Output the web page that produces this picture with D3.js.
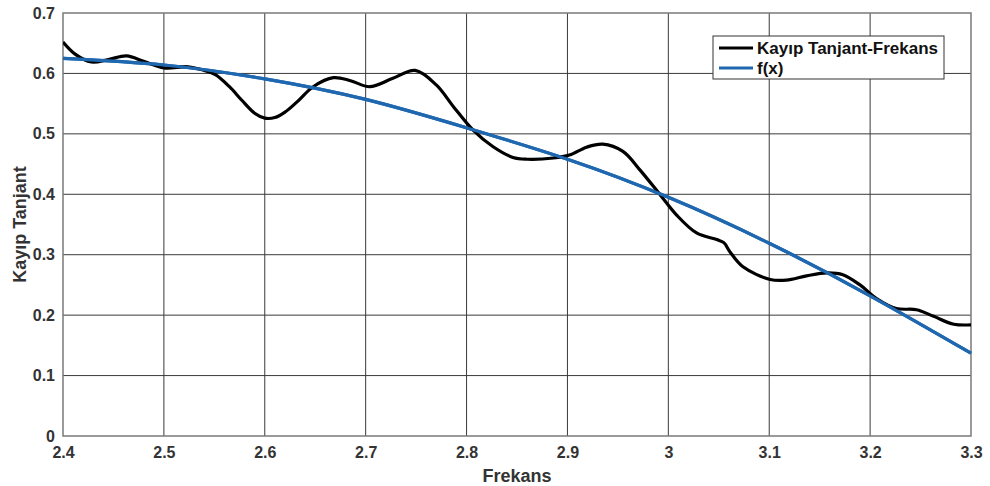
<!DOCTYPE html>
<html>
<head>
<meta charset="utf-8">
<script src="https://cdn.jsdelivr.net/npm/d3@7"></script>
<style>
  html, body { margin: 0; padding: 0; background: #fff; }
  svg { display: block; font-family: "Liberation Sans", Arial, sans-serif; }
</style>
</head>
<body>
<svg id="chart" width="990" height="486"></svg>
<script>
// Measured loss tangent vs. frequency
const measFreq = [2.400, 2.412, 2.428, 2.445, 2.463, 2.480, 2.500, 2.524, 2.540, 2.551,
  2.565, 2.577, 2.590, 2.600, 2.610, 2.620, 2.632, 2.648, 2.668, 2.685,
  2.704, 2.727, 2.749, 2.770, 2.787, 2.806, 2.826, 2.846, 2.860, 2.886,
  2.902, 2.919, 2.935, 2.955, 2.972, 2.992, 3.008, 3.028, 3.048, 3.055,
  3.061, 3.074, 3.101, 3.117, 3.137, 3.157, 3.173, 3.190, 3.206, 3.226,
  3.246, 3.263, 3.283, 3.300];
const measTan = [0.652, 0.632, 0.619, 0.623, 0.629, 0.620, 0.609, 0.611, 0.605, 0.598,
  0.578, 0.556, 0.534, 0.526, 0.527, 0.536, 0.553, 0.578, 0.593, 0.588,
  0.578, 0.592, 0.605, 0.581, 0.545, 0.507, 0.479, 0.461, 0.458, 0.460,
  0.465, 0.478, 0.483, 0.471, 0.440, 0.399, 0.366, 0.336, 0.325, 0.320,
  0.305, 0.280, 0.259, 0.258, 0.265, 0.270, 0.267, 0.250, 0.228, 0.211,
  0.209, 0.198, 0.185, 0.184];

// Fitted curve f(x)
const fitFreq = [2.4, 2.5, 2.6, 2.7, 2.8, 2.9, 3.0, 3.1, 3.2, 3.3];
const fitTan = [0.625, 0.614, 0.591, 0.557, 0.510, 0.458, 0.395, 0.319, 0.232, 0.137];

const xTicks = [2.4, 2.5, 2.6, 2.7, 2.8, 2.9, 3.0, 3.1, 3.2, 3.3];
const yTicks = [0, 0.1, 0.2, 0.3, 0.4, 0.5, 0.6, 0.7];
const seriesNames = ["Kayıp Tanjant-Frekans", "f(x)"];
const seriesColors = ["#000000", "#1f68b0"];

const svg = d3.select("#chart");
const m = { left: 63, right: 19, top: 13, bottom: 50 };
const W = 990, H = 486;
const x = d3.scaleLinear().domain([2.4, 3.3]).range([m.left, W - m.right]);
const y = d3.scaleLinear().domain([0, 0.7]).range([H - m.bottom, m.top]);

// grid
const g = svg.append("g");
g.selectAll("line.vx").data(xTicks.slice(1, -1)).join("line")
  .attr("x1", d => x(d)).attr("x2", d => x(d))
  .attr("y1", y(0)).attr("y2", y(0.7))
  .attr("stroke", "#3a3a3a").attr("stroke-width", 1);
g.selectAll("line.hy").data(yTicks.slice(1, -1)).join("line")
  .attr("y1", d => y(d)).attr("y2", d => y(d))
  .attr("x1", x(2.4)).attr("x2", x(3.3))
  .attr("stroke", "#3a3a3a").attr("stroke-width", 1);

// frame
svg.append("rect")
  .attr("x", x(2.4)).attr("y", y(0.7))
  .attr("width", x(3.3) - x(2.4)).attr("height", y(0) - y(0.7))
  .attr("fill", "none").attr("stroke", "#7a7a7a").attr("stroke-width", 1.5);

// axes tick labels
const xAxis = svg.append("g").attr("transform", `translate(0,${y(0)})`)
  .call(d3.axisBottom(x).tickValues(xTicks).tickSize(0).tickPadding(11)
    .tickFormat(d => d3.format("")(+d.toFixed(1))));
const yAxis = svg.append("g").attr("transform", `translate(${x(2.4)},0)`)
  .call(d3.axisLeft(y).tickValues(yTicks).tickSize(0).tickPadding(8)
    .tickFormat(d => d3.format("")(+d.toFixed(1))));
[xAxis, yAxis].forEach(a => {
  a.select(".domain").remove();
  a.selectAll("text").attr("font-size", 16).attr("font-weight", "bold")
    .attr("fill", "#333").attr("font-family", "Liberation Sans, Arial, sans-serif");
});

// axis titles
svg.append("text").attr("x", (x(2.4) + x(3.3)) / 2).attr("y", 482)
  .attr("text-anchor", "middle").attr("font-size", 18).attr("font-weight", "bold")
  .attr("fill", "#333").text("Frekans");
svg.append("text")
  .attr("transform", `translate(26,${(y(0) + y(0.7)) / 2}) rotate(-90)`)
  .attr("text-anchor", "middle").attr("font-size", 18).attr("font-weight", "bold")
  .attr("fill", "#333").text("Kayıp Tanjant");

// curves
const clip = svg.append("clipPath").attr("id", "plotclip").append("rect")
  .attr("x", x(2.4)).attr("y", y(0.7))
  .attr("width", x(3.3) - x(2.4)).attr("height", y(0) - y(0.7));

const line = d3.line().x(d => x(d[0])).y(d => y(d[1])).curve(d3.curveCatmullRom.alpha(0.5));
svg.append("path")
  .datum(fitFreq.map((f, i) => [f, fitTan[i]]))
  .attr("d", d3.line().x(d => x(d[0])).y(d => y(d[1])).curve(d3.curveNatural))
  .attr("fill", "none").attr("stroke", seriesColors[1]).attr("stroke-width", 3.2);
svg.append("path")
  .datum(measFreq.map((f, i) => [f, measTan[i]]))
  .attr("d", line)
  .attr("fill", "none").attr("stroke", seriesColors[0]).attr("stroke-width", 3.2)
  .attr("stroke-linejoin", "round").attr("clip-path", "url(#plotclip)");
// redraw fit above so it shows on top where they cross
svg.append("path")
  .datum(fitFreq.map((f, i) => [f, fitTan[i]]))
  .attr("d", d3.line().x(d => x(d[0])).y(d => y(d[1])).curve(d3.curveNatural))
  .attr("fill", "none").attr("stroke", seriesColors[1]).attr("stroke-width", 3.2);

// legend
const lg = svg.append("g").attr("transform", "translate(713,36)");
lg.append("rect").attr("width", 231).attr("height", 43)
  .attr("fill", "#fff").attr("stroke", "#333").attr("stroke-width", 1);
seriesNames.forEach((name, i) => {
  const yy = 12 + i * 20;
  lg.append("line").attr("x1", 6).attr("x2", 40).attr("y1", yy).attr("y2", yy)
    .attr("stroke", seriesColors[i]).attr("stroke-width", 3.2);
  lg.append("text").attr("x", 44).attr("y", yy + 6)
    .attr("font-size", 17).attr("font-weight", "bold").attr("fill", "#111")
    .text(name);
});
</script>
</body>
</html>
